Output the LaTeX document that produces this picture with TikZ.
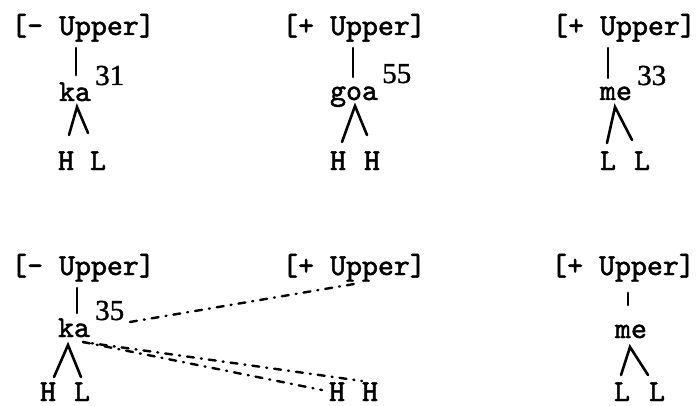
\documentclass[tikz,border=0pt]{standalone}
\usepackage{fontspec}
\newfontfamily\twfont[FakeBold=1.6]{lmmono10-regular.otf}
\newfontfamily\numfont[FakeBold=1.2]{Liberation Serif}
\begin{document}
\begin{tikzpicture}[x=1pt,y=-1pt,
  txt/.style={inner sep=0pt, anchor=base, font=\twfont\fontsize{30.4}{34}\selectfont},
  num/.style={inner sep=0pt, anchor=base west, font=\numfont\fontsize{29}{32}\selectfont},
  ln/.style={line width=2.6pt, line cap=round},
  dl/.style={line width=2.4pt, line cap=round, dash pattern=on 7pt off 7pt on 1pt off 7pt}]
\useasboundingbox (0,0) rectangle (700,406);
% ---- row 1 ----
\node[txt] (f1) at (83,35) {[- Upper]};
\node[txt] (f2) at (354,35) {[+ Upper]};
\node[txt] (f3) at (624,35) {[+ Upper]};
\node[txt] (s1) at (75,101) {ka};
\node[txt] (s2) at (354,100) {goa};
\node[txt] (s3) at (616,100) {me};
\node[num] (n1) at (95,85) {31};
\node[num] (n2) at (382,83) {55};
\node[num] (n3) at (637,85) {33};
\node[txt] (t1a) at (66,170) {H};
\node[txt] (t1b) at (98,170) {L};
\node[txt] (t2a) at (338,170) {H};
\node[txt] (t2b) at (372,170) {H};
\node[txt] (t3a) at (608,170) {L};
\node[txt] (t3b) at (642,170) {L};
% ticks row 1
\coordinate (k1a) at (76,48); \coordinate (k1b) at (76,75);
\coordinate (k2a) at (353,48); \coordinate (k2b) at (353,77);
\coordinate (k3a) at (608,48); \coordinate (k3b) at (608,78);
\draw[ln] (k1a) -- (k1b);
\draw[ln] (k2a) -- (k2b);
\draw[ln] (k3a) -- (k3b);
% lambdas row 1
\coordinate (a1) at (77,107); \coordinate (a1l) at (69,135); \coordinate (a1r) at (88,133);
\coordinate (a2) at (355,106); \coordinate (a2l) at (342,142); \coordinate (a2r) at (367,135);
\coordinate (a3) at (615,107); \coordinate (a3l) at (607,143); \coordinate (a3r) at (632,140);
\draw[ln] (a1l) -- (a1) -- (a1r);
\draw[ln] (a2l) -- (a2) -- (a2r);
\draw[ln] (a3l) -- (a3) -- (a3r);
% ---- row 2 ----
\node[txt] (g1) at (83,275) {[- Upper]};
\node[txt] (g2) at (354,275) {[+ Upper]};
\node[txt] (g3) at (623,275) {[+ Upper]};
\node[txt] (u1) at (74,337) {ka};
\node[txt] (u3) at (631,338) {me};
\node[num] (m1) at (95,320) {35};
\node[txt] (b1a) at (48,401) {H};
\node[txt] (b1b) at (82,401) {L};
\node[txt] (b2a) at (337,401) {H};
\node[txt] (b2b) at (370,401) {H};
\node[txt] (b3a) at (622,401) {L};
\node[txt] (b3b) at (657,401) {L};
% ticks row 2
\coordinate (q1a) at (77,288); \coordinate (q1b) at (77,313);
\coordinate (q3a) at (628,293); \coordinate (q3b) at (628,305);
\draw[ln] (q1a) -- (q1b);
\draw[ln] (q3a) -- (q3b);
% lambdas row 2
\coordinate (c1) at (68,345); \coordinate (c1l) at (54,377); \coordinate (c1r) at (81,377);
\coordinate (c3) at (630,347); \coordinate (c3l) at (621,375); \coordinate (c3r) at (648,375);
\draw[ln] (c1l) -- (c1) -- (c1r);
\draw[ln] (c3l) -- (c3) -- (c3r);
% association lines
\coordinate (d0) at (130,322); \coordinate (d1) at (360,283);
\coordinate (e0) at (83,342); \coordinate (e1) at (322,390); \coordinate (e2) at (362,381);
\draw[dl] (d0) -- (d1);
\draw[dl] (e0) -- (e1);
\draw[dl, dash phase=5pt] (e0) -- (e2);
\end{tikzpicture}
\end{document}
